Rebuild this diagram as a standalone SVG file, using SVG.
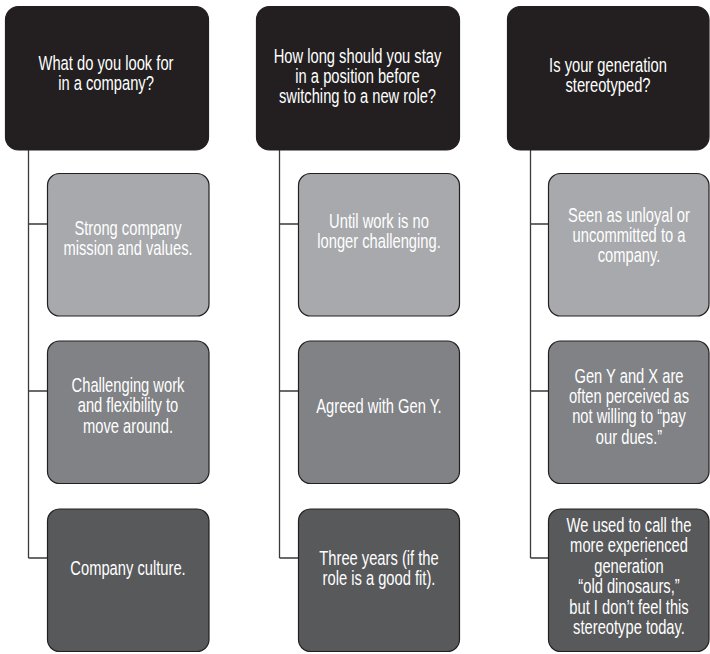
<svg xmlns="http://www.w3.org/2000/svg" width="710" height="654" viewBox="0 0 710 654">
<style>
  .q { fill: #231f20; stroke: #231f20; stroke-width: 1.2; }
  .g1 { fill: #a7a9ac; stroke: #231f20; stroke-width: 1.2; }
  .g2 { fill: #808285; stroke: #231f20; stroke-width: 1.2; }
  .g3 { fill: #58595b; stroke: #231f20; stroke-width: 1.2; }
  text { font-family: "Liberation Sans", Arial, sans-serif; font-size: 19.5px; fill: #ffffff; text-anchor: middle; }
  .c { fill: none; stroke: #3a3a3c; stroke-width: 1.3; }
</style>
<rect width="710" height="654" fill="#ffffff"/>
<g id="connectors">
  <path class="c" d="M28.5 150 V558 M28.5 224 H47 M28.5 391 H47 M28.5 558 H47"/>
  <path class="c" d="M279.5 150 V558 M279.5 224 H298 M279.5 391 H298 M279.5 558 H298"/>
  <path class="c" d="M530.5 150 V558 M530.5 224 H549 M530.5 391 H549 M530.5 558 H549"/>
</g>
<g id="q1">
  <rect class="q" x="5.5" y="6.5" width="203" height="143.5" rx="13"/>
  <g transform="translate(106 0) scale(0.755 1)">
    <text x="0" y="70">What do you look for</text>
    <text x="0" y="90">in a company?</text>
  </g>
</g>
<g id="a1-1">
  <rect class="g1" x="47.5" y="173.5" width="161.5" height="142.5" rx="12"/>
  <g transform="translate(128 0) scale(0.755 1)">
    <text x="0" y="235">Strong company</text>
    <text x="0" y="255">mission and values.</text>
  </g>
</g>
<g id="a1-2">
  <rect class="g2" x="47.5" y="341" width="161.5" height="142.5" rx="12"/>
  <g transform="translate(128 0) scale(0.755 1)">
    <text x="0" y="392">Challenging work</text>
    <text x="0" y="412.5">and flexibility to</text>
    <text x="0" y="433">move around.</text>
  </g>
</g>
<g id="a1-3">
  <rect class="g3" x="47.5" y="509" width="161.5" height="142.5" rx="12"/>
  <g transform="translate(128 0) scale(0.755 1)">
    <text x="0" y="575">Company culture.</text>
  </g>
</g>
<g id="q2">
  <rect class="q" x="256.5" y="6.5" width="203" height="143.5" rx="13"/>
  <g transform="translate(357.5 0) scale(0.755 1)">
    <text x="0" y="63">How long should you stay</text>
    <text x="0" y="83">in a position before</text>
    <text x="0" y="103">switching to a new role?</text>
  </g>
</g>
<g id="a2-1">
  <rect class="g1" x="298.5" y="173.5" width="161" height="142.5" rx="12"/>
  <g transform="translate(379 0) scale(0.755 1)">
    <text x="0" y="228">Until work is no</text>
    <text x="0" y="248">longer challenging.</text>
  </g>
</g>
<g id="a2-2">
  <rect class="g2" x="298.5" y="341" width="161" height="142.5" rx="12"/>
  <g transform="translate(379 0) scale(0.755 1)">
    <text x="0" y="413">Agreed with Gen Y.</text>
  </g>
</g>
<g id="a2-3">
  <rect class="g3" x="298.5" y="509" width="161" height="142.5" rx="12"/>
  <g transform="translate(379 0) scale(0.755 1)">
    <text x="0" y="565">Three years (if the</text>
    <text x="0" y="585">role is a good fit).</text>
  </g>
</g>
<g id="q3">
  <rect class="q" x="507.5" y="6.5" width="201.5" height="143.5" rx="13"/>
  <g transform="translate(608 0) scale(0.755 1)">
    <text x="0" y="72">Is your generation</text>
    <text x="0" y="92">stereotyped?</text>
  </g>
</g>
<g id="a3-1">
  <rect class="g1" x="548.5" y="173.5" width="160.5" height="142.5" rx="12"/>
  <g transform="translate(629 0) scale(0.755 1)">
    <text x="0" y="222">Seen as unloyal or</text>
    <text x="0" y="242">uncommitted to a</text>
    <text x="0" y="262">company.</text>
  </g>
</g>
<g id="a3-2">
  <rect class="g2" x="548.5" y="341" width="160.5" height="142.5" rx="12"/>
  <g transform="translate(629 0) scale(0.755 1)">
    <text x="0" y="383">Gen Y and X are</text>
    <text x="0" y="403">often perceived as</text>
    <text x="0" y="423.5">not willing to “pay</text>
    <text x="0" y="444">our dues.”</text>
  </g>
</g>
<g id="a3-3">
  <rect class="g3" x="548.5" y="509" width="160.5" height="142.5" rx="12"/>
  <g transform="translate(629 0) scale(0.755 1)">
    <text x="0" y="532">We used to call the</text>
    <text x="0" y="552.5">more experienced</text>
    <text x="0" y="573">generation</text>
    <text x="0" y="593.5">“old dinosaurs,”</text>
    <text x="0" y="614">but I don’t feel this</text>
    <text x="0" y="634.5">stereotype today.</text>
  </g>
</g>
</svg>
